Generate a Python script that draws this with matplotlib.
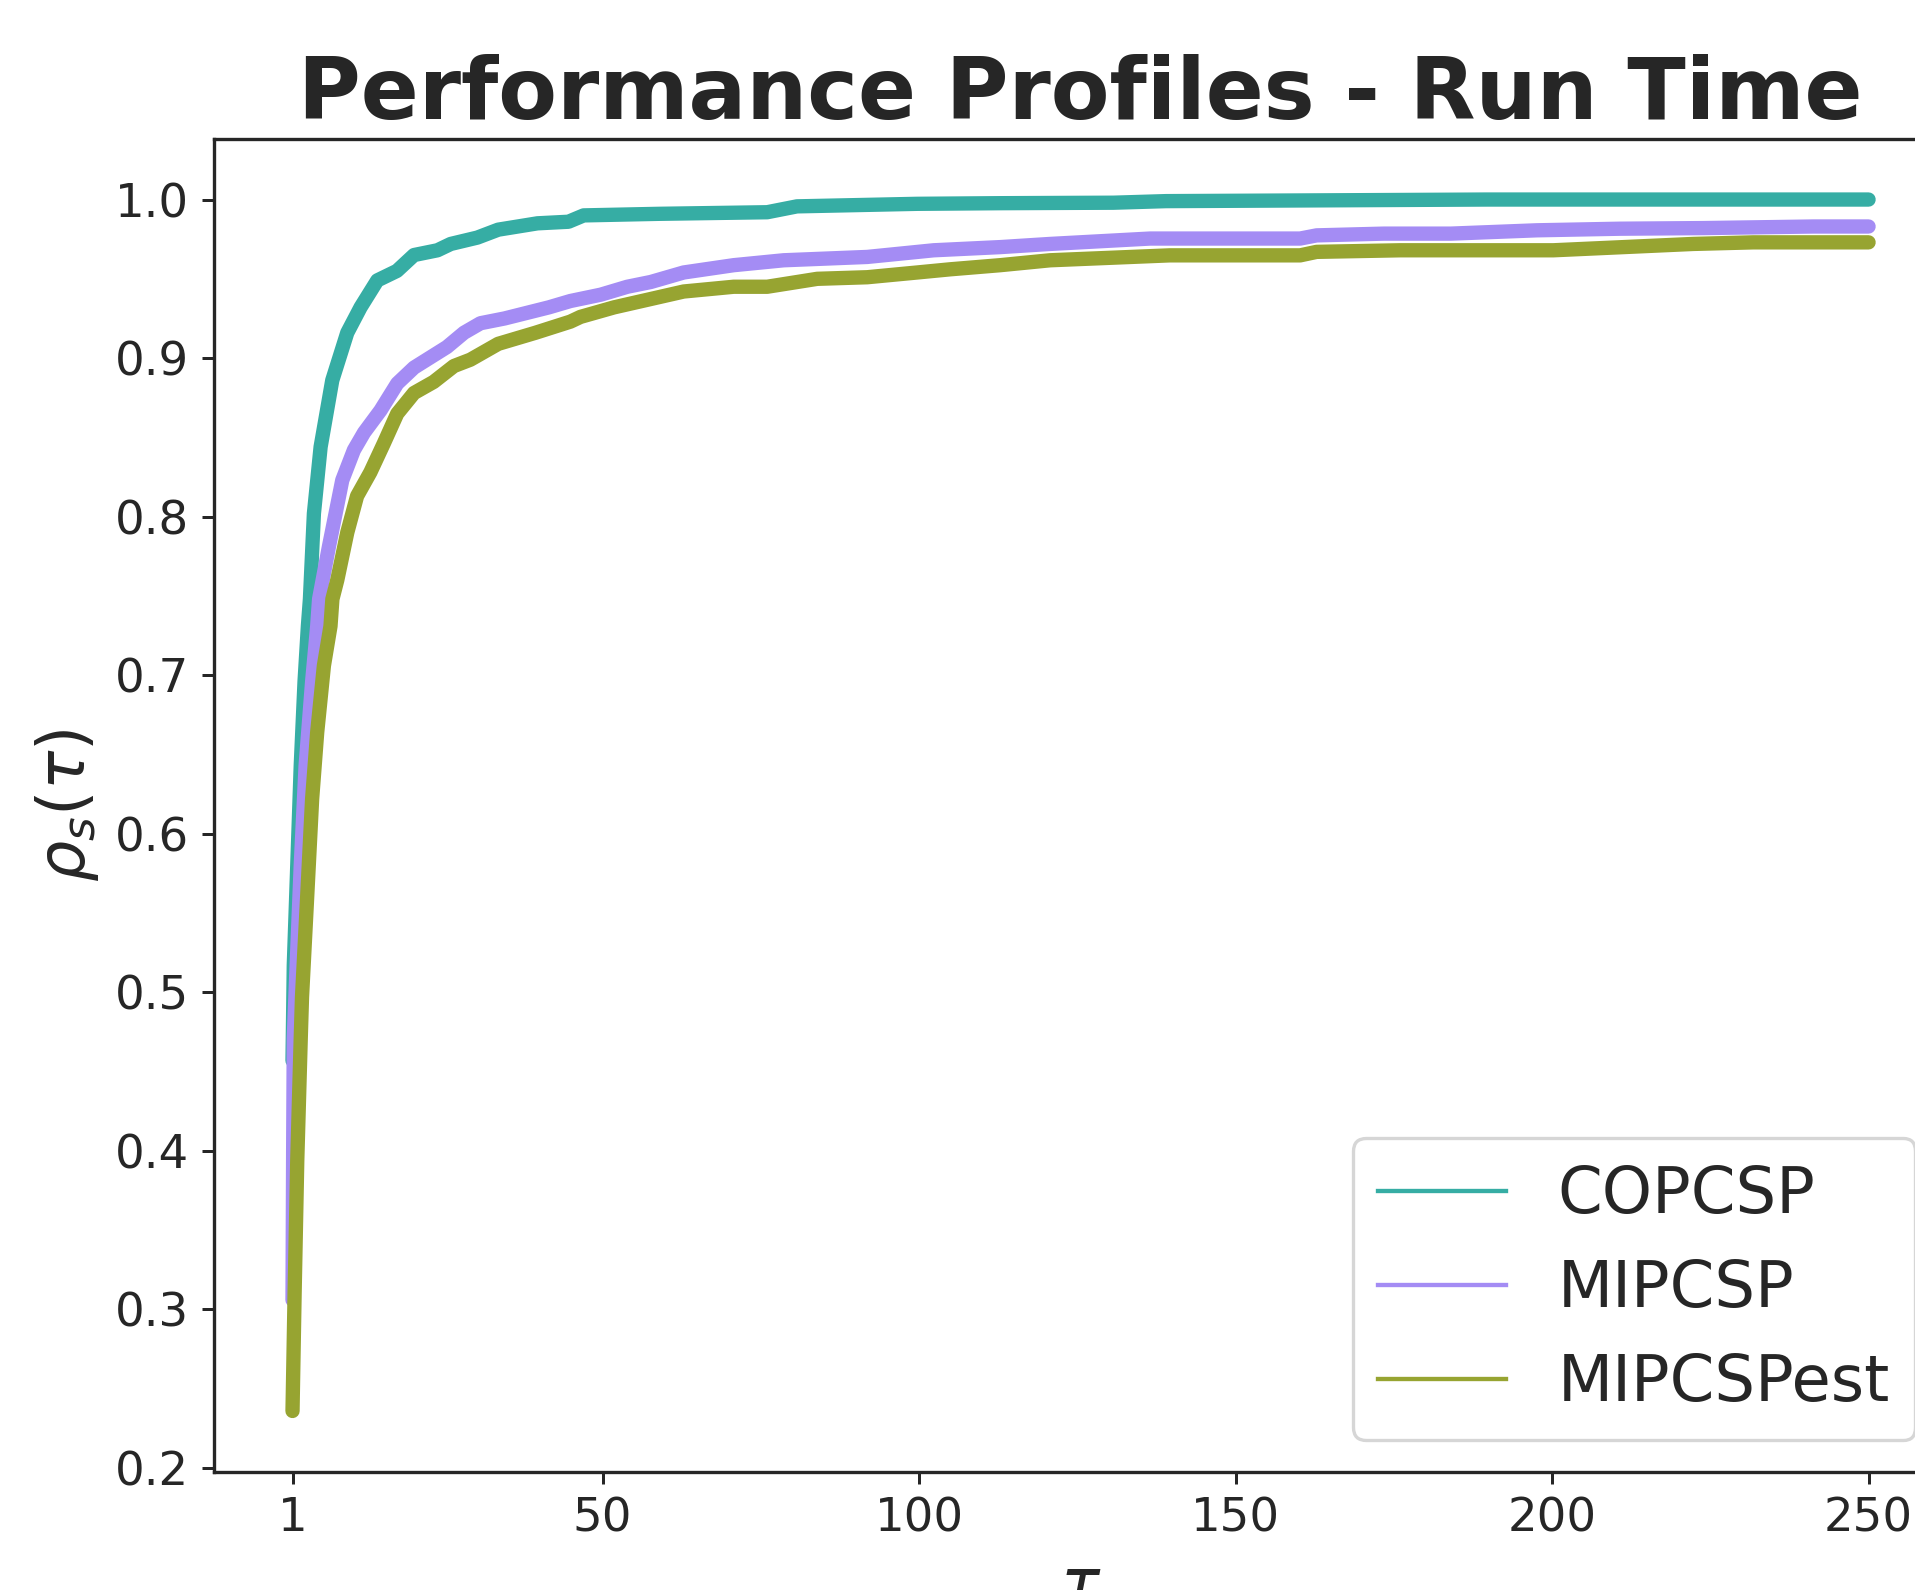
import matplotlib
matplotlib.use("Agg")
import matplotlib.pyplot as plt
from matplotlib.lines import Line2D

# performance profile curves
cop_tau = [1, 1.2, 1.75, 2.3, 2.9, 3.43, 3.75, 4.38, 5.44, 7.28, 9.65, 11.75, 14.4,
           17.5, 20.2, 23.9, 26, 30.2, 33.5, 39.7, 44.6, 47, 59, 76, 80.7, 99.7,
           112.8, 130.7, 139, 189.7, 250]
cop_rho = [0.457, 0.517, 0.58, 0.643, 0.696, 0.731, 0.748, 0.802, 0.844, 0.886, 0.916,
           0.932, 0.949, 0.955, 0.965, 0.968, 0.972, 0.976, 0.981, 0.985, 0.986, 0.990,
           0.991, 0.992, 0.9957, 0.9973, 0.9977, 0.998, 0.999, 1.0, 1.0]

mip_tau = [1, 1.1, 1.2, 1.65, 2.3, 3.07, 4.1, 4.9, 5.2, 6.75, 8.86, 10.7, 12.3, 14.9,
           17.55, 20.2, 25.4, 28.1, 30.7, 34.5, 41.5, 44.9, 49.7, 53.9, 57.6, 62.8,
           70.7, 78.6, 91.8, 102.3, 112.8, 120.7, 136.5, 160.2, 162.8, 173.4, 184,
           197.6, 210.7, 223.9, 241.3, 250]
mip_rho = [0.306, 0.40, 0.471, 0.517, 0.58, 0.643, 0.696, 0.731, 0.748, 0.781, 0.823,
           0.842, 0.853, 0.867, 0.884, 0.894, 0.907, 0.916, 0.922, 0.925, 0.932, 0.936,
           0.940, 0.945, 0.948, 0.954, 0.9586, 0.9617, 0.9638, 0.968, 0.970, 0.972,
           0.9754, 0.9754, 0.9774, 0.9785, 0.9785, 0.9806, 0.9816, 0.982, 0.983, 0.983]

est_tau = [1, 1.33, 1.75, 2.3, 2.5, 3.3, 4.1, 4.9, 5.96, 7.0, 7.3, 8.07, 9.65, 11.2,
           13.3, 15.4, 17.55, 20.2, 23.3, 26.5, 29.1, 33.5, 39.4, 44.9, 46.5, 51.8,
           62.8, 70.7, 76, 83.9, 91.8, 99.7, 104.9, 112.8, 120.7, 139.6, 160.2, 162.8,
           176, 184, 200.2, 222.3, 231.8, 250]
est_rho = [0.236, 0.31, 0.394, 0.471, 0.497, 0.559, 0.622, 0.664, 0.706, 0.731, 0.748,
           0.760, 0.790, 0.813, 0.828, 0.846, 0.865, 0.878, 0.885, 0.895, 0.899, 0.909,
           0.916, 0.923, 0.926, 0.932, 0.942, 0.945, 0.945, 0.950, 0.951, 0.954, 0.956,
           0.9586, 0.9617, 0.9648, 0.9648, 0.967, 0.968, 0.968, 0.968, 0.972, 0.973,
           0.973]

names = ["COPCSP", "MIPCSP", "MIPCSPest"]
colors = ["#36ada4", "#a48cf4", "#97a431"]
xtick_vals = [1, 50, 100, 150, 200, 250]

dark = "#262626"
plt.rcParams["text.color"] = dark
plt.rcParams["axes.labelcolor"] = dark
plt.rcParams["xtick.color"] = dark
plt.rcParams["ytick.color"] = dark

fig = plt.figure(figsize=(1915/240, 1590/240), dpi=240)
# the reference is cropped: axes run past the right edge
ax = fig.add_axes([0.1116, 0.0745, 0.9053, 0.8381])

series = [(cop_tau, cop_rho), (mip_tau, mip_rho), (est_tau, est_rho)]
for (t, r), c in zip(series, colors):
    ax.plot(t, r, color=c, lw=4.3, solid_capstyle="round", solid_joinstyle="round")

ax.set_xlim(-11.45, 262.45)
ax.set_ylim(0.1978, 1.0382)
ax.set_xticks(xtick_vals)
ax.tick_params(labelsize=14, length=3.6, width=0.9, pad=3.8)
for s in ax.spines.values():
    s.set_linewidth(1.0)
    s.set_color(dark)

ax.set_title("Performance Profiles - Run Time", fontsize=25.7, fontweight="bold")
ax.set_ylabel(r"$\rho_s(\tau)$", fontsize=19.5)
ax.set_xlabel(r"$\tau$", fontsize=19.5)

handles = [Line2D([0], [0], color=c, lw=1.3) for c in colors]
ax.legend(handles, names, loc="lower right", fontsize=19.2)

fig.savefig("out.png", dpi=240)
